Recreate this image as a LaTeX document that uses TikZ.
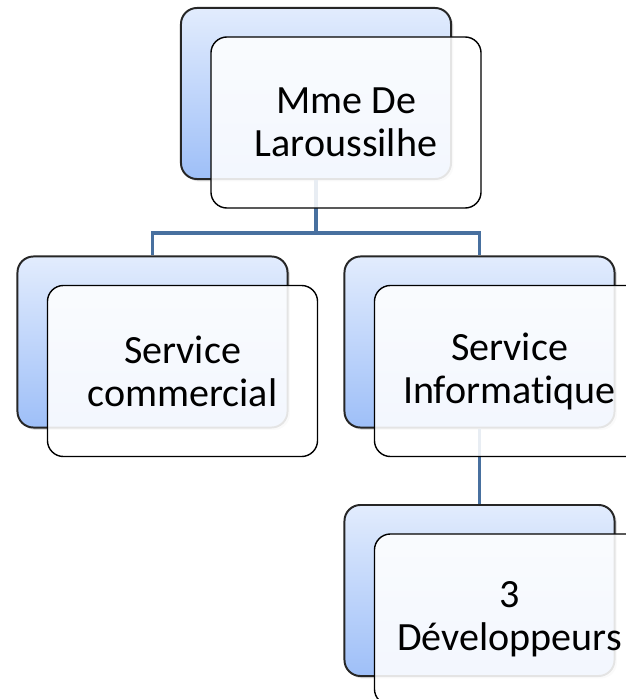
\documentclass[tikz,border=0pt]{standalone}
\usepackage{fontspec}
\setmainfont[Ligatures=NoCommon]{Carlito}
\usetikzlibrary{shadows}
\definecolor{boxtop}{HTML}{E2ECFD}
\definecolor{boxbottom}{HTML}{9EBFF8}
\definecolor{linkblue}{HTML}{48709F}
\begin{document}
\begin{tikzpicture}[
			x=0.025cm, y=-0.025cm,
			backbox/.style={rectangle, rounded corners=0.4cm, draw=black!85, line width=1.4pt,
					minimum width=6.75cm, minimum height=4.275cm, top color=boxtop, bottom color=boxbottom,
					drop shadow={shadow xshift=0.6mm, shadow yshift=-0.6mm, opacity=0.25}},
			frontbox/.style={rectangle, rounded corners=0.4cm, draw=black, line width=1pt,
					fill=white, fill opacity=0.88, text opacity=1,
					minimum width=6.75cm, minimum height=4.275cm, align=center,
					font=\fontsize{28.5}{30.6}\selectfont},
			link/.style={draw=linkblue, line width=2.8pt}
		]
		\useasboundingbox (0,0) rectangle (626,699);
		% back boxes
		\node[backbox] (mme) at (316,93.5) {};
		\node[backbox] (com) at (152.5,342) {};
		\node[backbox] (info) at (479.5,342) {};
		\node[backbox] (dev) at (479.5,590.5) {};
		% connectors
		\coordinate (bus) at (316,233);
		\draw[link] (mme.south) -- (bus) -| (com.north);
		\draw[link] (bus) -| (info.north);
		\draw[link] (info.south) -- (dev.north);
		% front boxes
		\node[frontbox] (mmefront) at ([shift={(30,29)}]mme) {Mme De\\Laroussilhe};
		\node[frontbox] (comfront) at ([shift={(30,29)}]com) {Service\\commercial};
		\node[frontbox] (infofront) at ([shift={(30,29)}]info) {Service\\Informatique};
		\node[frontbox] (devfront) at ([shift={(30,29)}]dev) {3\\Développeurs};
	\end{tikzpicture}
\end{document}
